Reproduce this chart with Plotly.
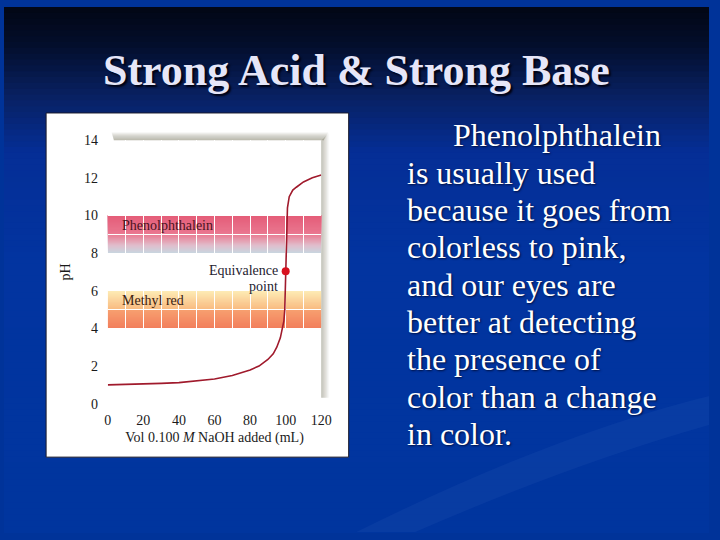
import plotly.graph_objects as go

# ---- data ----
vol_ml = [0, 10, 20, 30, 40, 50, 60, 70, 80, 85, 90, 93, 95, 97, 98, 99, 99.5, 99.8,
          100, 100.2, 100.5, 101, 102, 104, 106, 108, 110, 115, 120]
ph = [1.00, 1.02, 1.05, 1.08, 1.12, 1.20, 1.31, 1.50, 1.79, 2.00, 2.35, 2.65, 3.00, 3.50,
      4.00, 4.40, 5.00, 6.00, 7.04, 8.50, 9.60, 10.40, 11.00, 11.35, 11.50, 11.65, 11.78,
      12.00, 12.15]
equiv_vol = [100]
equiv_ph = [7.04]
x_ticks = [0, 20, 40, 60, 80, 100, 120]
y_ticks = [0, 2, 4, 6, 8, 10, 12, 14]
phenol_range = [8, 10]
methyl_range = [4, 6]
title_text = "Strong Acid & Strong Base"
body_lines = ["Phenolphthalein", "is usually used", "because it goes from",
              "colorless to pink,", "and our eyes are", "better at detecting",
              "the presence of", "color than a change", "in color."]

W, H = 720, 540
SERIF = "Liberation Serif, Times New Roman, serif"

def px_x(p):
    return p / W

def px_y(p):
    return 1 - p / H

def lerp(c1, c2, t):
    return tuple(int(round(a + (b - a) * t)) for a, b in zip(c1, c2))

shapes = []

# slide background gradient
stops = [(0, (2, 6, 20)), (40, (3, 14, 44)), (90, (8, 32, 96)), (150, (5, 46, 150)),
         (260, (2, 52, 160)), (540, (0, 53, 158))]
n = 90
for i in range(n):
    y0 = i * H / n
    y1 = (i + 1) * H / n + 1.0
    ym = (y0 + y1) / 2
    for (a, ca), (b, cb) in zip(stops[:-1], stops[1:]):
        if a <= ym <= b:
            c = lerp(ca, cb, (ym - a) / (b - a))
            break
    shapes.append(dict(type="rect", xref="paper", yref="paper", layer="below",
                       x0=0, x1=1, y0=px_y(y1), y1=px_y(y0), line=dict(width=0),
                       fillcolor="rgb(%d,%d,%d)" % c))

# faint swoosh
shapes.append(dict(type="path", xref="paper", yref="paper", layer="below",
                   path="M %f %f Q %f %f %f %f L %f %f Q %f %f %f %f Z" % (
                       px_x(360), px_y(540), px_x(560), px_y(440), px_x(720), px_y(400),
                       px_x(720), px_y(430), px_x(580), px_y(470), px_x(420), px_y(540)),
                   fillcolor="rgba(120,150,230,0.07)", line=dict(width=0)))

# white figure box
shapes.append(dict(type="rect", xref="paper", yref="paper", layer="below",
                   x0=px_x(43), x1=px_x(352), y0=px_y(463), y1=px_y(109),
                   fillcolor="white", line=dict(color="#1a1a2a", width=1)))

# plot shadow (top and right)
for k in range(8):
    a = 0.12 + 0.08 * k
    shapes.append(dict(type="rect", xref="paper", yref="paper", layer="below",
                       x0=px_x(110 + k * 0.3), x1=px_x(331 - k * 0.6),
                       y0=px_y(129 + k + 1), y1=px_y(129 + k),
                       fillcolor="rgba(140,138,120,%.2f)" % a, line=dict(width=0)))
    shapes.append(dict(type="rect", xref="paper", yref="paper", layer="below",
                       x0=px_x(331 - k), x1=px_x(332 - k),
                       y0=px_y(402), y1=px_y(130 + k),
                       fillcolor="rgba(140,138,120,%.2f)" % (0.06 + 0.07 * k), line=dict(width=0)))

# indicator bands (gradients) in data coords, stacked bottom->top with overlap
bg = (200, 214, 224)
ns = 30
lo, hi = phenol_range
for i in range(ns):
    y0 = lo + (hi - lo) * i / ns
    t = (i + 0.5) / ns  # 0 bottom, 1 top
    if t > 0.5:
        c = lerp((234, 120, 144), (228, 92, 120), (t - 0.5) / 0.5)
    elif t > 0.2:
        c = lerp((224, 190, 204), (234, 120, 144), (t - 0.2) / 0.3)
    else:
        c = lerp(bg, (224, 190, 204), t / 0.2)
    shapes.append(dict(type="rect", xref="x", yref="y", layer="below",
                       x0=0, x1=120, y0=y0, y1=hi, line=dict(width=0),
                       fillcolor="rgb(%d,%d,%d)" % c))

lo, hi = methyl_range
for i in range(ns):
    y0 = lo + (hi - lo) * i / ns
    t = (i + 0.5) / ns
    if t > 0.5:
        c = lerp((249, 186, 128), (253, 236, 182), (t - 0.5) / 0.5)
    else:
        c = lerp((242, 126, 92), (247, 160, 112), t / 0.5)
    shapes.append(dict(type="rect", xref="x", yref="y", layer="below",
                       x0=0, x1=120, y0=y0, y1=min(hi, y0 + (hi - lo) / ns + 0.08),
                       line=dict(width=0), fillcolor="rgb(%d,%d,%d)" % c))

fig = go.Figure()
fig.add_trace(go.Scatter(x=vol_ml, y=ph, mode="lines",
                         line=dict(color="#a01a2c", width=1.6), hoverinfo="skip",
                         showlegend=False))
fig.add_trace(go.Scatter(x=equiv_vol, y=equiv_ph, mode="markers",
                         marker=dict(color="#d8101e", size=8), hoverinfo="skip",
                         showlegend=False))

annotations = []
annotations.append(dict(text="<b>" + title_text + "</b>", xref="paper", yref="paper",
                        x=0.5, y=px_y(65), xanchor="center", yanchor="middle", showarrow=False,
                        font=dict(family=SERIF, size=44, color="#e6e6f8",
                                  shadow="2px 2px 2px #000010")))
line_y0 = 132
dy = 38.4
for i, line in enumerate(body_lines):
    annotations.append(dict(text=line, xref="paper", yref="paper",
                            x=px_x(456 if i == 0 else 410), y=px_y(line_y0 + dy * i),
                            xanchor="left", yanchor="middle", showarrow=False,
                            font=dict(family=SERIF, size=32, color="#ffffff",
                                      shadow="1px 1px 2px #001040")))
# chart labels
lab = dict(family=SERIF, size=14)
annotations.append(dict(text="Phenolphthalein", x=7, y=9.45, xref="x", yref="y",
                        xanchor="left", yanchor="middle", showarrow=False,
                        font=dict(lab, color="#4a1220")))
annotations.append(dict(text="Methyl red", x=7, y=5.5, xref="x", yref="y",
                        xanchor="left", yanchor="middle", showarrow=False,
                        font=dict(lab, color="#3a2010")))
annotations.append(dict(text="Equivalence", x=96.8, y=7.05, xref="x", yref="y",
                        xanchor="right", yanchor="middle", showarrow=False,
                        font=dict(lab, color="#1e2230")))
annotations.append(dict(text="point", x=96.8, y=6.2, xref="x", yref="y",
                        xanchor="right", yanchor="middle", showarrow=False,
                        font=dict(lab, color="#1e2230")))

fig.update_layout(
    width=W, height=H, margin=dict(l=0, r=0, t=0, b=0),
    paper_bgcolor="#003399", plot_bgcolor="rgb(200,214,224)",
    shapes=shapes, annotations=annotations, showlegend=False, hovermode=False,
    xaxis=dict(domain=[px_x(106), px_x(324)], range=[0, 120], tickvals=x_ticks,
               showgrid=True, gridcolor="white", gridwidth=1,
               minor=dict(dtick=10, showgrid=True, gridcolor="white", gridwidth=1),
               zeroline=False, showline=False, ticks="outside", ticklen=4,
               tickcolor="rgba(0,0,0,0)",
               tickfont=dict(family=SERIF, size=14, color="#1a1a1a"),
               title=dict(text="Vol 0.100 <i>M</i> NaOH added (mL)", standoff=4,
                          font=dict(family=SERIF, size=14, color="#1a1a1a"))),
    yaxis=dict(domain=[px_y(408), px_y(137)], range=[0, 14], tickvals=y_ticks,
               showgrid=True, gridcolor="white", gridwidth=1,
               minor=dict(dtick=1, showgrid=True, gridcolor="white", gridwidth=1),
               zeroline=False, showline=False, ticks="outside", ticklen=6,
               tickcolor="rgba(0,0,0,0)",
               tickfont=dict(family=SERIF, size=14, color="#1a1a1a"),
               title=dict(text="pH", standoff=10,
                          font=dict(family=SERIF, size=14, color="#1a1a1a"))),
)

fig.write_html("out.html", config={"displayModeBar": False},
               post_script="document.body.style.margin='0';document.body.style.padding='0';")
